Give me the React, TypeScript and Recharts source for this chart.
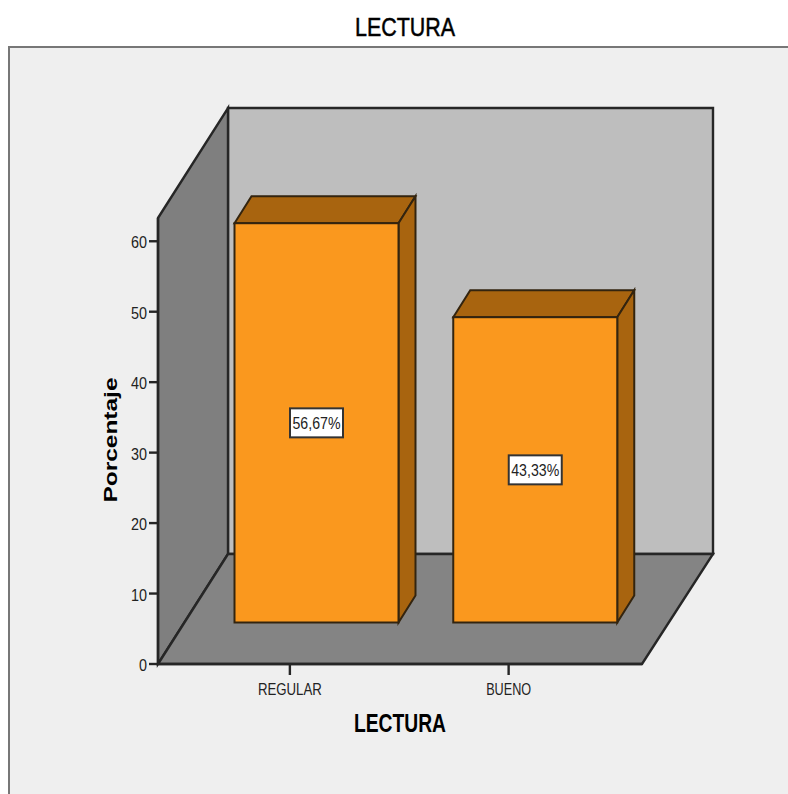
import React from "react";
import { BarChart, Bar, XAxis, YAxis, LabelList, usePlotArea } from "recharts";

const categories = ["REGULAR", "BUENO"];
const percentages = [56.67, 43.33];
const valueLabels = ["56,67%", "43,33%"];
const yTicks = [0, 10, 20, 30, 40, 50, 60];
const chartTitle = "LECTURA";
const xTitle = "LECTURA";
const yTitle = "Porcentaje";

const rows = categories.map((name, i) => ({ name, value: percentages[i], label: valueLabels[i] }));

const W = 788;
const H = 794;
const DEPTH_X = 70;
const DEPTH_Y = 110;
const BAR_DX = 27;
const BAR_DY = -41.5;
const SIDE_X = 17;
const SIDE_Y = 27;
const FONT = "'Liberation Sans', Arial, sans-serif";
const LINE = "#262626";

const tickWidths: Record<string, number> = { REGULAR: 64, BUENO: 45 };

function Scene() {
  const area = usePlotArea();
  if (!area) return null;
  const l = area.x;
  const r = area.x + area.width;
  const t = area.y;
  const b = area.y + area.height;
  const pts = (a: number[][]) => a.map((p) => p.join(",")).join(" ");
  return (
    <g>
      <rect x={9} y={47} width={W} height={H} fill="#efefef" stroke="#777" strokeWidth={2} />
      <text x={405} y={36} textAnchor="middle" fontFamily={FONT} fontSize={26} fill="#000" stroke="#000" strokeWidth={0.5} textLength={100} lengthAdjust="spacingAndGlyphs">
        {chartTitle}
      </text>
      <polygon points={pts([[l + DEPTH_X, t - DEPTH_Y], [r + DEPTH_X + 1, t - DEPTH_Y], [r + DEPTH_X + 1, b - DEPTH_Y], [l + DEPTH_X, b - DEPTH_Y]])} fill="#bebebe" stroke={LINE} strokeWidth={2.4} />
      <polygon points={pts([[l, t], [l + DEPTH_X, t - DEPTH_Y], [l + DEPTH_X, b - DEPTH_Y], [l, b]])} fill="#7f7f7f" stroke={LINE} strokeWidth={2.4} />
      <polygon points={pts([[l, b], [l + DEPTH_X, b - DEPTH_Y], [r + DEPTH_X + 1, b - DEPTH_Y], [r, b]])} fill="#848484" stroke={LINE} strokeWidth={2.4} />
    </g>
  );
}

function Bar3D(props: any) {
  const { x, y, width, height } = props;
  const x0 = x + BAR_DX;
  const x1 = x0 + width;
  const y0 = y + BAR_DY;
  const y1 = y0 + height;
  const stroke = "#33240f";
  return (
    <g>
      <polygon points={`${x0},${y0} ${x0 + SIDE_X},${y0 - SIDE_Y} ${x1 + SIDE_X},${y0 - SIDE_Y} ${x1},${y0}`} fill="#a8640f" stroke={stroke} strokeWidth={2} />
      <polygon points={`${x1},${y0} ${x1 + SIDE_X},${y0 - SIDE_Y} ${x1 + SIDE_X},${y1 - SIDE_Y} ${x1},${y1}`} fill="#a8640f" stroke={stroke} strokeWidth={2} />
      <rect x={x0} y={y0} width={width} height={height} fill="#fa981e" stroke={stroke} strokeWidth={2} />
    </g>
  );
}

function ValueBox(props: any) {
  const { x, y, width, height, value } = props;
  const cx = x + BAR_DX + width / 2;
  const cy = y + BAR_DY + height / 2;
  return (
    <g>
      <rect x={cx - 26.5} y={cy - 14.5} width={53} height={29} fill="#fff" stroke="#333" strokeWidth={2} />
      <text x={cx} y={cy + 6} textAnchor="middle" fontFamily={FONT} fontSize={17} fill="#222" textLength={48} lengthAdjust="spacingAndGlyphs">
        {value}
      </text>
    </g>
  );
}

function XTick(props: any) {
  const { x, y, payload } = props;
  return (
    <text x={x} y={y + 18} textAnchor="middle" fontFamily={FONT} fontSize={17} fill="#222" textLength={tickWidths[payload.value]} lengthAdjust="spacingAndGlyphs">
      {payload.value}
    </text>
  );
}

function YTick(props: any) {
  const { x, y, payload } = props;
  const s = String(payload.value);
  return (
    <text x={x} y={y + 7} textAnchor="end" fontFamily={FONT} fontSize={17} fill="#222" textLength={s.length * 8} lengthAdjust="spacingAndGlyphs">
      {s}
    </text>
  );
}

function XTitle(props: any) {
  return (
    <text x={400} y={732} textAnchor="middle" fontFamily={FONT} fontWeight="bold" fontSize={25} fill="#000" textLength={92} lengthAdjust="spacingAndGlyphs">
      {xTitle}
    </text>
  );
}

function YTitle(props: any) {
  return (
    <text x={117} y={440} transform="rotate(-90 117 440)" textAnchor="middle" fontFamily={FONT} fontWeight="bold" fontSize={19} fill="#000" textLength={125} lengthAdjust="spacingAndGlyphs">
      {yTitle}
    </text>
  );
}

export default function App() {
  return (
    <div style={{ position: "absolute", left: 0, top: 0, width: W, height: H, overflow: "hidden", background: "#fff" }}>
      <BarChart width={W} height={H} data={rows} margin={{ top: 218, right: 146, bottom: 70, left: 108 }} barSize={164}>
        <Scene />
        <XAxis
          dataKey="name"
          height={60}
          padding={{ left: 22.5, right: 24 }}
          stroke={LINE}
          strokeWidth={2.4}
          tickLine={{ stroke: LINE, strokeWidth: 2.4 }}
          tickSize={11}
          tick={<XTick />}
          label={<XTitle />}
          interval={0}
        />
        <YAxis
          width={50}
          domain={[0, 63.3]}
          ticks={yTicks}
          stroke={LINE}
          strokeWidth={2.4}
          tickLine={{ stroke: LINE, strokeWidth: 2.4 }}
          tickSize={9}
          tick={<YTick />}
          label={<YTitle />}
        />
        <Bar dataKey="value" shape={<Bar3D />} isAnimationActive={false}>
          <LabelList dataKey="label" content={<ValueBox />} />
        </Bar>
      </BarChart>
    </div>
  );
}
